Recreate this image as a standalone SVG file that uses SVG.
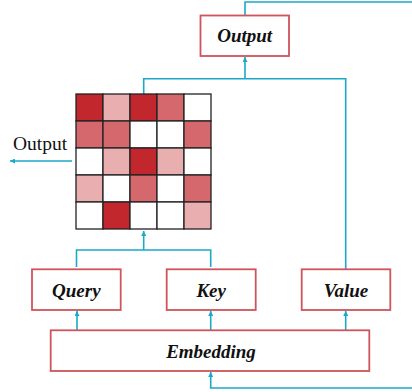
<svg xmlns="http://www.w3.org/2000/svg" width="412" height="392" viewBox="0 0 412 392">
<style>
.box{fill:#fff;stroke:#D0545C;stroke-width:1.8}
.lbl{font-family:"Liberation Serif",serif;font-weight:bold;font-style:italic;font-size:19px;fill:#111;text-anchor:middle}
.ln{fill:none;stroke:#1BA8C9;stroke-width:1.6}
.c{stroke:#222;stroke-width:1.3}
.d{fill:#C1272D}.m{fill:#D4686D}.l{fill:#E8AEB0}.w{fill:#fff}
</style>
<defs>
<marker id="ah" viewBox="0 0 10 10" refX="10" refY="5" markerWidth="5" markerHeight="5" orient="auto" markerUnits="userSpaceOnUse">
<path d="M0,0L10,5L0,10z" fill="#1BA8C9"/>
</marker>
</defs>
<g id="connectors">
<polyline class="ln" points="245,15.5 245,2 412,2"/>
<polyline class="ln" points="143.7,94 143.7,78.7 345.7,78.7 345.7,269.3"/>
<line class="ln" x1="245" y1="78.7" x2="245" y2="57" marker-end="url(#ah)"/>
<line class="ln" x1="72" y1="161" x2="10" y2="161" marker-end="url(#ah)"/>
<polyline class="ln" points="76.5,267 76.5,250 210.7,250 210.7,267"/>
<line class="ln" x1="143.7" y1="250" x2="143.7" y2="231" marker-end="url(#ah)"/>
<line class="ln" x1="77" y1="330" x2="77" y2="311" marker-end="url(#ah)"/>
<line class="ln" x1="210.7" y1="330" x2="210.7" y2="311" marker-end="url(#ah)"/>
<line class="ln" x1="345.7" y1="330" x2="345.7" y2="311" marker-end="url(#ah)"/>
<polyline class="ln" points="412,388 210.7,388 210.7,372" marker-end="url(#ah)"/>
</g>
<g id="output-node">
<rect class="box" x="200.5" y="15.5" width="88.5" height="40.5"/>
<text class="lbl" x="244.7" y="42">Output</text>
</g>
<g id="matrix">
<rect class="c d" x="76" y="94" width="27" height="27"/>
<rect class="c l" x="103" y="94" width="27" height="27"/>
<rect class="c d" x="130" y="94" width="27" height="27"/>
<rect class="c m" x="157" y="94" width="27" height="27"/>
<rect class="c w" x="184" y="94" width="27" height="27"/>
<rect class="c m" x="76" y="121" width="27" height="27"/>
<rect class="c m" x="103" y="121" width="27" height="27"/>
<rect class="c w" x="130" y="121" width="27" height="27"/>
<rect class="c w" x="157" y="121" width="27" height="27"/>
<rect class="c m" x="184" y="121" width="27" height="27"/>
<rect class="c w" x="76" y="148" width="27" height="27"/>
<rect class="c l" x="103" y="148" width="27" height="27"/>
<rect class="c d" x="130" y="148" width="27" height="27"/>
<rect class="c l" x="157" y="148" width="27" height="27"/>
<rect class="c w" x="184" y="148" width="27" height="27"/>
<rect class="c l" x="76" y="175" width="27" height="27"/>
<rect class="c w" x="103" y="175" width="27" height="27"/>
<rect class="c m" x="130" y="175" width="27" height="27"/>
<rect class="c w" x="157" y="175" width="27" height="27"/>
<rect class="c m" x="184" y="175" width="27" height="27"/>
<rect class="c w" x="76" y="202" width="27" height="27"/>
<rect class="c d" x="103" y="202" width="27" height="27"/>
<rect class="c w" x="130" y="202" width="27" height="27"/>
<rect class="c w" x="157" y="202" width="27" height="27"/>
<rect class="c l" x="184" y="202" width="27" height="27"/>
</g>
<g id="output-label">
<text x="13" y="150" font-family="Liberation Serif, serif" font-size="19.5" fill="#111">Output</text>
</g>
<g id="query-node">
<rect class="box" x="32" y="269.3" width="88.7" height="40.7"/>
<text class="lbl" x="76.3" y="297">Query</text>
</g>
<g id="key-node">
<rect class="box" x="166.7" y="269.3" width="89" height="40.7"/>
<text class="lbl" x="211.2" y="297">Key</text>
</g>
<g id="value-node">
<rect class="box" x="301.7" y="269.3" width="88.6" height="40.7"/>
<text class="lbl" x="346" y="297">Value</text>
</g>
<g id="embedding-node">
<rect class="box" x="50.7" y="330.3" width="318.6" height="40.7"/>
<text class="lbl" x="211" y="357.5">Embedding</text>
</g>
</svg>
